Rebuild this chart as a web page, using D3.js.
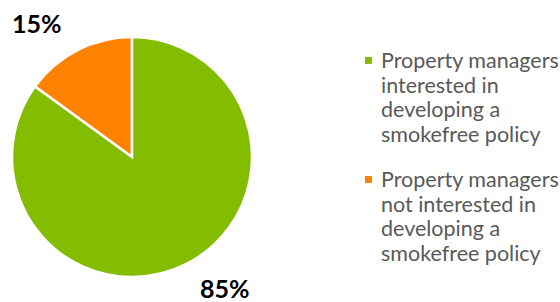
<!DOCTYPE html>
<html>
<head>
<meta charset="utf-8">
<script src="https://cdn.jsdelivr.net/npm/d3@7"></script>
<style>
  body { margin: 0; background: #fff; }
</style>
</head>
<body>
<div id="viz"></div>
<script>
const categories = ["Property managers interested in developing a smokefree policy",
                    "Property managers not interested in developing a smokefree policy"];
const values = [85, 15];
const valueLabels = ["85%", "15%"];
const legendLines = [
  ["Property managers", "interested in", "developing a", "smokefree policy"],
  ["Property managers", "not interested in", "developing a", "smokefree policy"]
];
const colors = ["#84bc00", "#ff8200"];

const width = 560, height = 302;
const svg = d3.select("#viz").append("svg")
  .attr("width", width)
  .attr("height", height)
  .style("font-family", "Lato, sans-serif");

const cx = 132, cy = 157, radius = 120;

// the 15% slice sits counter-clockwise from 12 o'clock
const pie = d3.pie().sort(null).value(d => d)
  .startAngle(-2 * Math.PI * values[1] / 100)
  .endAngle(2 * Math.PI - 2 * Math.PI * values[1] / 100);
const arcs = pie([values[1], values[0]]);
const arc = d3.arc().innerRadius(0).outerRadius(radius);

const g = svg.append("g").attr("transform", `translate(${cx},${cy})`);
g.selectAll("path")
  .data(arcs)
  .enter()
  .append("path")
  .attr("d", arc)
  .attr("fill", (d, i) => colors[1 - i])
  .attr("stroke", "#fff")
  .attr("stroke-width", 2.5)
  .attr("stroke-linejoin", "miter");

// percentage labels outside the pie
svg.append("text")
  .attr("x", 12).attr("y", 33)
  .style("font-size", "25px").style("font-weight", "bold")
  .attr("fill", "#000")
  .text(valueLabels[1]);
svg.append("text")
  .attr("x", 200).attr("y", 298)
  .style("font-size", "25px").style("font-weight", "bold")
  .attr("fill", "#000")
  .text(valueLabels[0]);

// legend
const legendX = 381, legendY = [68, 187], lineH = 24.7;
categories.forEach((c, i) => {
  svg.append("rect")
    .attr("x", 365).attr("y", legendY[i] - 11)
    .attr("width", 7).attr("height", 7)
    .attr("fill", colors[i]);
  const t = svg.append("text")
    .attr("x", legendX).attr("y", legendY[i])
    .style("font-size", "21.5px")
    .attr("fill", "#595959");
  legendLines[i].forEach((l, j) => {
    t.append("tspan").attr("x", legendX).attr("y", legendY[i] + j * lineH).text(l);
  });
});
</script>
</body>
</html>
